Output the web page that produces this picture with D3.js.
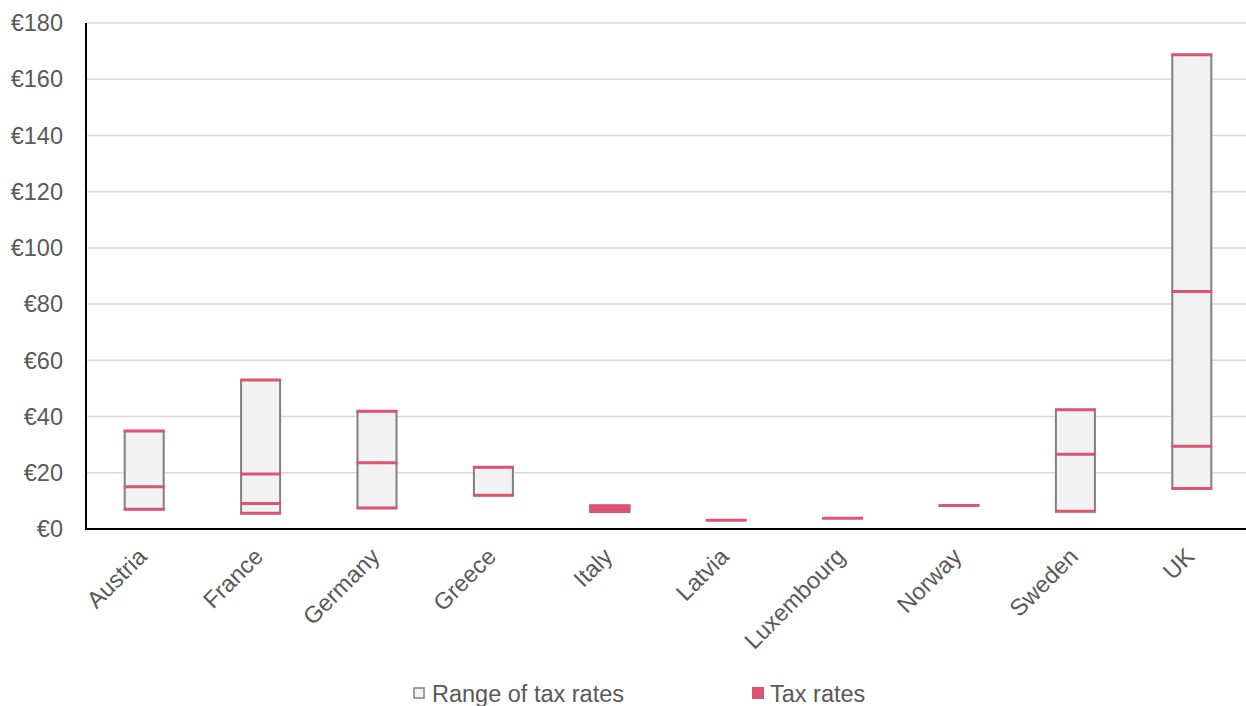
<!DOCTYPE html>
<html>
<head>
<meta charset="utf-8">
<style>
body { margin: 0; background: #fff; }
svg { display: block; font-family: "Liberation Sans", Arial, sans-serif; }
.grid line { stroke: #d9d9d9; stroke-width: 1.5; }
.lbl { fill: #595959; font-size: 23.5px; }
</style>
</head>
<body>
<svg id="svg" width="1246" height="706"></svg>
<script src="https://cdnjs.cloudflare.com/ajax/libs/d3/7.8.5/d3.min.js"></script>
<script>
// countries and their tax rates (EUR)
var countries = ['Austria', 'France', 'Germany', 'Greece', 'Italy', 'Latvia', 'Luxembourg', 'Norway', 'Sweden', 'UK']
var rangeLow  = [7.0, 5.6, 7.5, 12.0, 6.2, 3.1, 3.8, 8.4, 6.3, 14.4]
var rangeHigh = [34.9, 53.0, 41.9, 22.0, 8.3, 3.1, 3.8, 8.4, 42.4, 168.7]
var rates = [
  [7.0, 15.0, 34.9],
  [5.6, 9.1, 19.6, 53.0],
  [7.5, 23.6, 41.9],
  [12.0, 22.0],
  [6.2, 6.8, 7.4, 8.0, 8.3],
  [3.1],
  [3.8],
  [8.4],
  [6.3, 26.6, 42.4],
  [14.4, 29.4, 84.5, 168.7]
]
var yTicks = [0, 20, 40, 60, 80, 100, 120, 140, 160, 180]

var red = '#dc5470', grey = '#808080', boxFill = '#f2f2f2'

var svg = d3.select('#svg')

var x = d3.scaleBand().domain(countries).range([86, 1250])
var y = d3.scaleLinear().domain([0, 180]).range([529, 23])
var boxW = 39

// gridlines
svg.append('g').attr('class', 'grid')
  .selectAll('line').data(yTicks.slice(1)).enter().append('line')
  .attr('x1', 86).attr('x2', 1250)
  .attr('y1', d => y(d)).attr('y2', d => y(d))

// y labels
svg.append('g').selectAll('text').data(yTicks).enter().append('text')
  .attr('class', 'lbl')
  .attr('x', 63).attr('y', d => y(d))
  .attr('dy', '0.35em')
  .attr('text-anchor', 'end')
  .text(d => '€' + d)

// boxes
var g = svg.append('g').selectAll('g').data(countries).enter().append('g')
  .attr('transform', d => 'translate(' + (x(d) + x.bandwidth() / 2) + ',0)')

g.filter((d, i) => rangeHigh[i] > rangeLow[i])
  .append('rect')
  .attr('x', -boxW / 2)
  .attr('width', boxW)
  .attr('y', (d, i) => y(rangeHigh[countries.indexOf(d)]))
  .attr('height', d => { var i = countries.indexOf(d); return y(rangeLow[i]) - y(rangeHigh[i]) })
  .attr('fill', boxFill)
  .attr('stroke', grey)
  .attr('stroke-width', 2)

g.each(function(d, i) {
  d3.select(this).selectAll('line').data(rates[i]).enter().append('line')
    .attr('x1', -boxW / 2 - 1).attr('x2', boxW / 2 + 1)
    .attr('y1', v => y(v)).attr('y2', v => y(v))
    .attr('stroke', red)
    .attr('stroke-width', 3)
})

// axes lines
svg.append('line').attr('x1', 86).attr('x2', 86).attr('y1', 23).attr('y2', 530)
  .attr('stroke', '#000').attr('stroke-width', 2)
svg.append('line').attr('x1', 85).attr('x2', 1250).attr('y1', y(0)).attr('y2', y(0))
  .attr('stroke', '#000').attr('stroke-width', 2)

// category labels
svg.append('g').selectAll('text').data(countries).enter().append('text')
  .attr('class', 'lbl')
  .attr('text-anchor', 'end')
  .attr('transform', d => 'translate(' + (x(d) + x.bandwidth() / 2 + 4) + ',558) rotate(-45)')
  .text(d => d)

// legend
var leg = svg.append('g')
leg.append('rect').attr('x', 414).attr('y', 688).attr('width', 10).attr('height', 10)
  .attr('fill', boxFill).attr('stroke', grey).attr('stroke-width', 1.5)
leg.append('text').attr('class', 'lbl').attr('x', 432).attr('y', 702).text('Range of tax rates')
leg.append('rect').attr('x', 752).attr('y', 687).attr('width', 12).attr('height', 12)
  .attr('fill', red)
leg.append('text').attr('class', 'lbl').attr('x', 770).attr('y', 702).text('Tax rates')
</script>
</body>
</html>
